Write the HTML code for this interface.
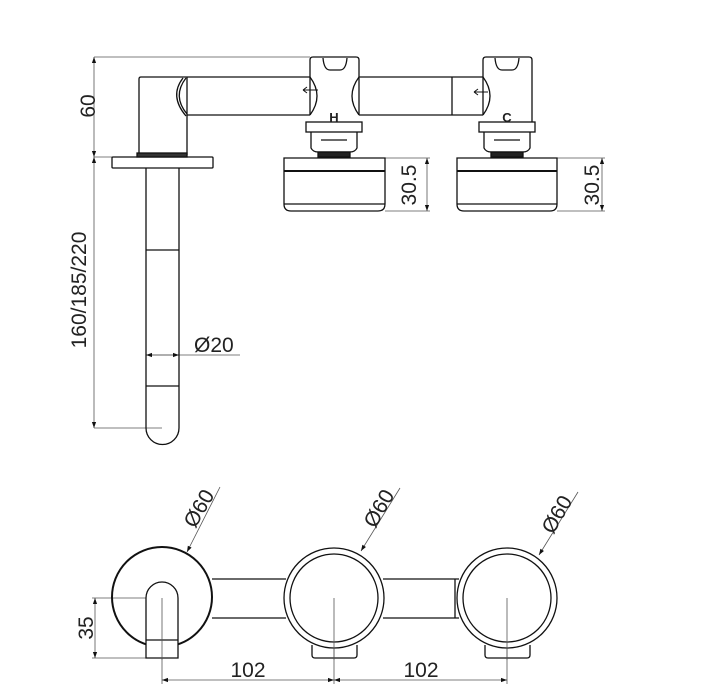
<!DOCTYPE html>
<html><head><meta charset="utf-8"><style>
html,body{margin:0;padding:0;background:#fff;}
svg{display:block}
text{font-family:"Liberation Sans",sans-serif;fill:#222}
</style></head><body>
<svg width="713" height="700" viewBox="0 0 713 700" xmlns="http://www.w3.org/2000/svg">
<defs>
<marker id="ar" viewBox="0 0 10 10" refX="10" refY="5" markerWidth="8" markerHeight="6" orient="auto-start-reverse" markerUnits="userSpaceOnUse"><path d="M0,1.5 L10,5 L0,8.5 z" fill="#111"/></marker>
</defs>
<g fill="none" stroke="#555" stroke-width="0.8">
<!-- top dims -->
<line x1="94" y1="57" x2="310" y2="57"/>
<line x1="94" y1="157" x2="115" y2="157"/>
<line x1="94" y1="57" x2="94" y2="157" marker-start="url(#ar)" marker-end="url(#ar)"/>
<line x1="94" y1="157" x2="94" y2="428" marker-start="url(#ar)" marker-end="url(#ar)"/>
<line x1="94" y1="428" x2="162" y2="428"/>
<line x1="385" y1="158" x2="430" y2="158"/>
<line x1="385" y1="211" x2="430" y2="211"/>
<line x1="427" y1="158" x2="427" y2="211" marker-start="url(#ar)" marker-end="url(#ar)"/>
<line x1="557" y1="158" x2="605" y2="158"/>
<line x1="557" y1="211" x2="605" y2="211"/>
<line x1="602" y1="158" x2="602" y2="211" marker-start="url(#ar)" marker-end="url(#ar)"/>
<line x1="146" y1="355" x2="240" y2="355"/>
<line x1="146" y1="355" x2="162" y2="355" marker-start="url(#ar)"/>
<line x1="162" y1="355" x2="179" y2="355" marker-end="url(#ar)"/>
<!-- bottom dims -->
<line x1="220" y1="487" x2="187" y2="552" marker-end="url(#ar)"/>
<line x1="400" y1="488" x2="361" y2="551" marker-end="url(#ar)"/>
<line x1="578" y1="492" x2="539" y2="555" marker-end="url(#ar)"/>
<line x1="92" y1="598" x2="162" y2="598"/>
<line x1="92" y1="658" x2="150" y2="658"/>
<line x1="95" y1="598" x2="95" y2="658" marker-start="url(#ar)" marker-end="url(#ar)"/>
<line x1="162" y1="598" x2="162" y2="684"/>
<line x1="334" y1="598" x2="334" y2="684"/>
<line x1="507" y1="598" x2="507" y2="684"/>
<line x1="162" y1="680" x2="334" y2="680" marker-start="url(#ar)" marker-end="url(#ar)"/>
<line x1="334" y1="680" x2="507" y2="680" marker-start="url(#ar)" marker-end="url(#ar)"/>
</g>
<g fill="none" stroke="#111" stroke-width="1.3">
<!-- top view body -->
<path d="M139,155 V79 Q139,77 141,77 H187"/>
<line x1="187" y1="77" x2="310" y2="77"/>
<line x1="187" y1="115" x2="310" y2="115"/>
<line x1="187" y1="77" x2="187" y2="155"/>
<path d="M186,78 Q172,96 187,114"/>
<path d="M183,78 Q169,96 186,116"/>
<rect x="112" y="157" width="101" height="11" rx="1"/>
<rect x="137" y="153" width="50" height="4" fill="#333"/>
<path d="M146,168 V428 A16.5,16.5 0 0 0 179,428 V168"/>
<line x1="146" y1="250" x2="179" y2="250"/>
<line x1="146" y1="386" x2="179" y2="386"/>
<!-- tube between valves -->
<line x1="359" y1="77" x2="483" y2="77"/>
<line x1="359" y1="115" x2="483" y2="115"/>
<line x1="452" y1="77" x2="452" y2="115"/>
<!-- left valve -->
<path d="M310,115 V60 Q310,57 313,57 H356 Q359,57 359,60 V115"/>
<path d="M310,77 Q324,96 310,115"/>
<path d="M359,77 Q345,96 359,115"/>
<path d="M323,58 Q324,70 330,70 H340 Q346,70 347,58"/>
<rect x="306" y="122" width="56" height="10"/>
<path d="M311,132 V148 Q313,152 318,152 H350 Q355,152 357,148 V132"/>
<line x1="321" y1="140" x2="347" y2="140"/>
<rect x="318" y="152" width="32" height="5" fill="#222"/>
<path d="M284,158 H385 V204 Q385,211 378,211 H291 Q284,211 284,204 Z"/>
<line x1="284" y1="171" x2="385" y2="171" stroke-width="2"/>
<line x1="284" y1="204" x2="385" y2="204"/>
<path d="M318,90 H303 M303,90 L307,87 M303,90 L307,93" stroke-width="1"/>
<!-- right valve -->
<path d="M483,115 V60 Q483,57 486,57 H529 Q532,57 532,60 V122"/>
<path d="M483,77 Q497,96 483,115"/>
<path d="M495,58 Q496,70 502,70 H512 Q518,70 519,58"/>
<rect x="479" y="122" width="56" height="10"/>
<path d="M484,132 V148 Q486,152 491,152 H523 Q528,152 530,148 V132"/>
<line x1="494" y1="140" x2="520" y2="140"/>
<rect x="491" y="152" width="32" height="5" fill="#222"/>
<path d="M457,158 H557 V204 Q557,211 550,211 H464 Q457,211 457,204 Z"/>
<line x1="457" y1="171" x2="557" y2="171" stroke-width="2"/>
<line x1="457" y1="204" x2="557" y2="204"/>
<path d="M488,92 H474 M474,92 L478,89 M474,92 L478,95" stroke-width="1"/>
<!-- bottom view -->
<line x1="212" y1="579" x2="286" y2="579"/>
<line x1="212" y1="618" x2="286" y2="618"/>
<line x1="383" y1="579" x2="459" y2="579"/>
<line x1="383" y1="618" x2="459" y2="618"/>
<line x1="455" y1="579" x2="455" y2="618"/>
<circle cx="162" cy="597" r="50" stroke-width="2"/>
<path d="M146,658 V598 A16,16 0 0 1 178,598 V658 Z" fill="#fff"/>
<line x1="146" y1="640" x2="178" y2="640"/>
<path d="M312,645 V655 Q312,658 315,658 H354 Q357,658 357,655 V645"/>
<path d="M485,645 V655 Q485,658 488,658 H527 Q530,658 530,655 V645"/>
<circle cx="334" cy="598" r="50" fill="#fff"/>
<circle cx="334" cy="598" r="44"/>
<circle cx="507" cy="598" r="50" fill="#fff"/>
<circle cx="507" cy="598" r="44"/>
</g>
<g stroke="#555" stroke-width="0.8"><line x1="334" y1="598" x2="334" y2="660"/><line x1="507" y1="598" x2="507" y2="660"/><line x1="162" y1="598" x2="162" y2="660"/></g>
<text x="334" y="122" font-size="13" font-weight="bold" text-anchor="middle">H</text>
<text x="507" y="122" font-size="13" font-weight="bold" text-anchor="middle">C</text>
<g font-size="21">
<text transform="translate(95,106) rotate(-90)" text-anchor="middle">60</text>
<text transform="translate(86,290) rotate(-90)" text-anchor="middle">160/185/220</text>
<text transform="translate(416,185) rotate(-90)" text-anchor="middle">30.5</text>
<text transform="translate(599,185) rotate(-90)" text-anchor="middle">30.5</text>
<text x="194" y="352">Ø20</text>
<text transform="translate(205,512) rotate(-60)" text-anchor="middle">Ø60</text>
<text transform="translate(385,512) rotate(-60)" text-anchor="middle">Ø60</text>
<text transform="translate(563,518) rotate(-60)" text-anchor="middle">Ø60</text>
<text transform="translate(93,628) rotate(-90)" text-anchor="middle">35</text>
<text x="248" y="677" text-anchor="middle">102</text>
<text x="421" y="677" text-anchor="middle">102</text>
</g>
</svg>
</body></html>
